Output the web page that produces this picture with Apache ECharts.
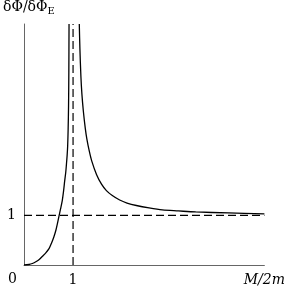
<!DOCTYPE html>
<html>
<head>
<meta charset="utf-8">
<script src="https://cdn.jsdelivr.net/npm/echarts@6/dist/echarts.min.js"></script>
<style>html,body{margin:0;padding:0;background:#fff}#c{width:288px;height:292px}</style>
</head>
<body>
<div id="c"></div>
<script>
// Left branch (below the resonance)
var leftX = [0, 0.1, 0.17, 0.25, 0.31, 0.37, 0.44, 0.51, 0.56, 0.61, 0.65, 0.68, 0.71, 0.745, 0.78, 0.805, 0.83, 0.85, 0.865, 0.88, 0.89, 0.9, 0.908, 0.914, 0.918];
var leftY = [0, 0.01, 0.03, 0.07, 0.11, 0.17, 0.24, 0.33, 0.44, 0.57, 0.7, 0.83, 0.97, 1.13, 1.3, 1.48, 1.7, 1.86, 2.03, 2.22, 2.4, 2.75, 3.2, 3.9, 4.86];
// Right branch (above the resonance)
var rightX = [1.127, 1.14, 1.16, 1.18, 1.21, 1.25, 1.28, 1.33, 1.38, 1.48, 1.58, 1.68, 1.8, 1.95, 2.1, 2.29, 2.55, 2.82, 3.15, 3.5, 4.17, 4.9];
var rightY = [4.86, 4.35, 3.8, 3.45, 3.1, 2.75, 2.55, 2.3, 2.1, 1.82, 1.63, 1.5, 1.4, 1.31, 1.25, 1.2, 1.15, 1.11, 1.09, 1.07, 1.05, 1.03];
// Reference dashed lines
var refX = 1;
var refY = 1;
var xMax = 4.9;
var yMax = 4.86;
var xTickLabels = {1: '1'};
var yTickLabels = {1: '1'};

function pairs(xs, ys) { return xs.map(function (x, i) { return [x, ys[i]]; }); }

var chart = echarts.init(document.getElementById('c'), null, {renderer: 'canvas'});
var serif = 'DejaVu Serif';
chart.setOption({
  animation: false,
  grid: {left: 23, top: 22, width: 243, height: 243},
  xAxis: {
    type: 'value', min: 0, max: xMax, interval: 1,
    axisLine: {lineStyle: {color: '#666', width: 1}},
    axisTick: {show: false}, splitLine: {show: false},
    axisLabel: {margin: 8, color: '#000', fontFamily: serif, fontSize: 14,
      formatter: function (v) { return xTickLabels[v] || ''; }},
    name: 'M/2m', nameLocation: 'end', nameGap: 0,
    nameTextStyle: {fontFamily: serif, fontStyle: 'italic', fontSize: 14, color: '#000',
      align: 'center', verticalAlign: 'top', padding: [8, 0, 0, 0]}
  },
  yAxis: {
    type: 'value', min: 0, max: yMax, interval: 1,
    axisLine: {show: true, lineStyle: {color: '#666', width: 1}},
    axisTick: {show: false}, splitLine: {show: false},
    axisLabel: {margin: 8, color: '#000', fontFamily: serif, fontSize: 14,
      formatter: function (v) { return yTickLabels[v] || ''; }},
    name: 'δΦ/δΦ{s|E}', nameLocation: 'end', nameGap: 8,
    nameTextStyle: {fontFamily: serif, fontSize: 14, color: '#000', align: 'left',
      padding: [0, 0, 0, -21],
      rich: {s: {fontFamily: serif, fontSize: 10, color: '#000', verticalAlign: 'bottom', padding: [8, 0, 0, 0]}}}
  },
  graphic: [{type: 'text', left: 8, top: 272, style: {text: '0', fontFamily: serif, fontSize: 14, fill: '#000'}}],
  series: [
    {type: 'line', data: pairs(leftX, leftY), showSymbol: false, smooth: 0.3, clip: true,
      lineStyle: {color: '#000', width: 1.3}},
    {type: 'line', data: pairs(rightX, rightY), showSymbol: false, smooth: 0.3, clip: true,
      lineStyle: {color: '#000', width: 1.3}},
    {type: 'line', data: [[refX, 0], [refX, yMax]], showSymbol: false,
      lineStyle: {color: '#000', width: 1.2, type: [8, 4]}},
    {type: 'line', data: [[0, refY], [xMax, refY]], showSymbol: false,
      lineStyle: {color: '#000', width: 1.2, type: [8, 4]}}
  ]
});
</script>
</body>
</html>
